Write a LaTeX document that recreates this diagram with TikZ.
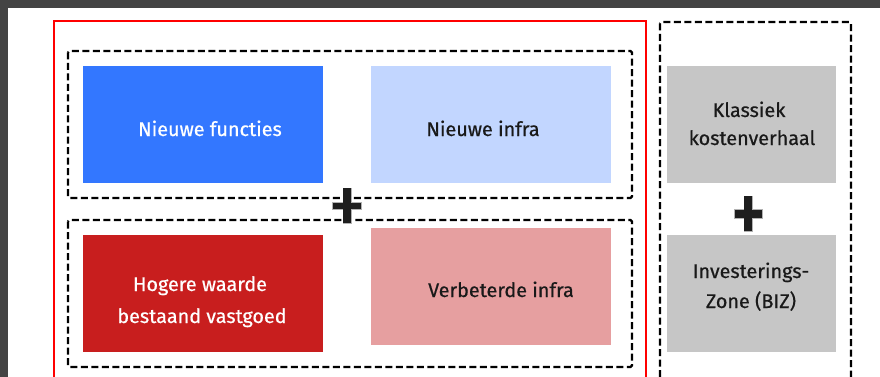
\documentclass[tikz,border=0pt]{standalone}
\usepackage{fontspec}
\setmainfont{Fira Sans}
\newfontfamily\blockfont{Fira Sans}[FakeBold=0.6]
\definecolor{frame}{HTML}{444444}
\definecolor{boxblue}{HTML}{3377FF}
\definecolor{boxlightblue}{HTML}{C2D6FF}
\definecolor{boxred}{HTML}{C81E1E}
\definecolor{boxpink}{HTML}{E69FA0}
\definecolor{boxgray}{HTML}{C6C6C6}
\definecolor{plusink}{HTML}{1E1E1E}
\begin{document}
\begin{tikzpicture}[x=1pt,y=-1pt,
  block/.style={draw=none,fill=#1,minimum width=240pt,minimum height=117pt,inner sep=0pt,anchor=north west},
  sideblock/.style={draw=none,fill=boxgray,minimum width=169pt,minimum height=117pt,inner sep=0pt,anchor=north west},
  group/.style={draw=black,line width=2.3pt,dash pattern=on 7pt off 3.5pt,rounded corners=1.5pt},
  lbl/.style={anchor=base,inner sep=0pt,font=\blockfont\fontsize{19.8}{23}\selectfont},
  pluspart/.style={fill=plusink,draw=gray!60,line width=0.4pt}]
\useasboundingbox (0,0) rectangle (880,377);
\clip (0,0) rectangle (880,377);
\fill[white] (0,0) rectangle (880,377);
% dark window frame along the top and left
\fill[frame] (0,0) rectangle (880,8);
\fill[frame] (0,0) rectangle (8,377);

% outer red frame and the dashed groups
\draw[red,line width=2pt] (54,21) rectangle (646,400);
\draw[group] (68,51) rectangle (632,198);
\draw[group] (68,220) rectangle (632,367);
\draw[group] (660,22) rectangle (851,400);

% coloured blocks
\node[block=boxblue] (nf) at (83,66) {};
\node[block=boxlightblue] (ni) at (371,66) {};
\node[block=boxred] (hw) at (83,235) {};
\node[block=boxpink] (vi) at (371,228) {};
\node[sideblock] (kk) at (667,66) {};
\node[sideblock] (iz) at (667,235) {};

% labels
\node[lbl,text=white] (tnf) at (210,136) {Nieuwe functies};
\node[lbl,text=black!90] (tni) at (483,136) {Nieuwe infra};
\node[lbl,text=white] (thw1) at (200,291) {Hogere waarde};
\node[lbl,text=white] (thw2) at (202,323) {bestaand vastgoed};
\node[lbl,text=black!90] (tvi) at (501,297) {Verbeterde infra};
\node[lbl,text=black!90] (tkk1) at (749,117) {Klassiek};
\node[lbl,text=black!90] (tkk2) at (752,145) {kostenverhaal};
\node[lbl,text=black!90] (tiz1) at (751,278) {Investerings-};
\node[lbl,text=black!90] (tiz2) at (751,308) {Zone (BIZ)};

% plus signs between the groups
\path[pluspart] (343,188) rectangle (351,223);
\path[pluspart] (332,202) rectangle (361,209);
\path[fill=plusink] (343.3,188.3) rectangle (350.7,222.7);
\path[pluspart] (744,196) rectangle (752,231);
\path[pluspart] (734,209) rectangle (762,218);
\path[fill=plusink] (744.3,196.3) rectangle (751.7,230.7);
\end{tikzpicture}
\end{document}
